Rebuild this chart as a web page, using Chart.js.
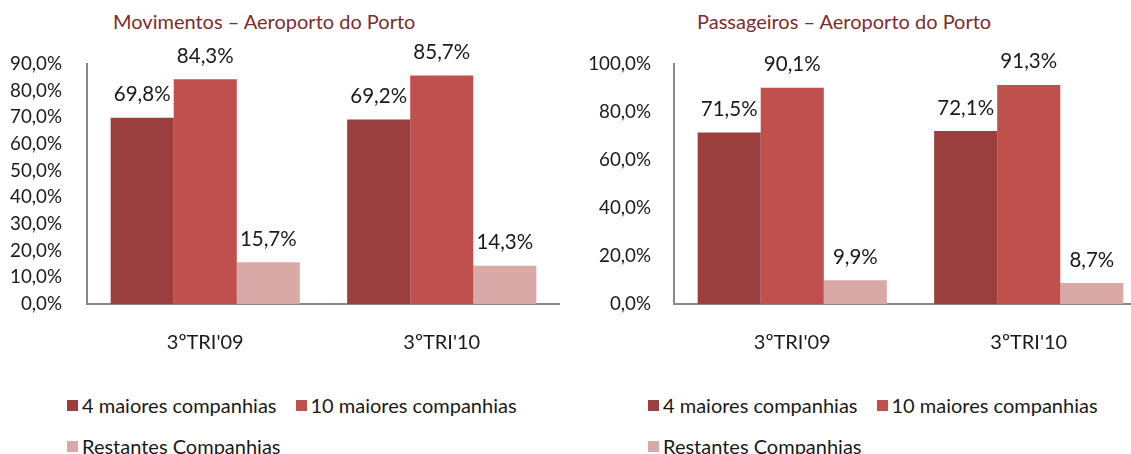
<!DOCTYPE html>
<html>
<head>
<meta charset="utf-8">
<script src="https://cdn.jsdelivr.net/npm/chart.js@4.4.1/dist/chart.umd.min.js"></script>
<style>
  html, body { margin: 0; padding: 0; background: #fff; overflow: hidden; }
  body { width: 1131px; height: 454px; position: relative; font-family: Lato, sans-serif; }
  .title { position: absolute; top: 9px; font-size: 20px; color: #7b2d2d; white-space: nowrap; }
  .chartBox { position: absolute; top: 0; }
  .legend { position: absolute; top: 392px; font-size: 20px; color: #1a1a1a; }
  .legend .row { display: flex; align-items: center; height: 26px; margin-bottom: 15px; }
  .legend .item { display: flex; align-items: center; margin-right: 19px; white-space: nowrap; }
  .legend .sw { width: 11px; height: 11px; margin-right: 4px; }
</style>
</head>
<body>
<div class="title" style="left:113px">Movimentos – Aeroporto do Porto</div>
<div class="title" style="left:697px">Passageiros – Aeroporto do Porto</div>
<div class="chartBox" style="left:0"><canvas id="movChart" width="560" height="364"></canvas></div>
<div class="chartBox" style="left:580px"><canvas id="pasChart" width="567" height="364"></canvas></div>
<div class="legend" id="movLegend" style="left:67px"></div>
<div class="legend" id="pasLegend" style="left:648px"></div>
<script>
// Categories and series
const categories = ["3ºTRI'09", "3ºTRI'10"];
const seriesNames = ['4 maiores companhias', '10 maiores companhias', 'Restantes Companhias'];
const seriesColors = ['#9b3f3e', '#c0504d', '#d9a9a8'];

// Movimentos (%)
const movTop4 = [69.8, 69.2];
const movTop10 = [84.3, 85.7];
const movRest = [15.7, 14.3];
const movMax = 90, movStep = 10;

// Passageiros (%)
const pasTop4 = [71.5, 72.1];
const pasTop10 = [90.1, 91.3];
const pasRest = [9.9, 8.7];
const pasMax = 100, pasStep = 20;

const fmt = v => v.toFixed(1).replace('.', ',') + '%';

// draws value labels above each bar
const barLabels = {
    id: 'barLabels',
    afterDatasetsDraw(chart) {
        const ctx = chart.ctx;
        ctx.save();
        ctx.font = '20.5px Lato';
        ctx.fillStyle = '#1a1a1a';
        ctx.textAlign = 'center';
        ctx.textBaseline = 'middle';
        chart.data.datasets.forEach((ds, i) => {
            chart.getDatasetMeta(i).data.forEach((bar, j) => {
                ctx.fillText(fmt(ds.data[j]), bar.x, bar.y - 23);
            });
        });
        ctx.restore();
    }
};

function makeChart(id, series, yMax, yStep, yWidth, yPad) {
    return new Chart(document.getElementById(id).getContext('2d'), {
        type: 'bar',
        data: {
            labels: categories,
            datasets: series.map((d, i) => ({
                label: seriesNames[i],
                data: d,
                backgroundColor: seriesColors[i],
                categoryPercentage: 0.8,
                barPercentage: 1.0
            }))
        },
        options: {
            responsive: false,
            animation: false,
            layout: { padding: { top: 64, right: 0, bottom: 0, left: 0 } },
            plugins: { legend: { display: false }, tooltip: { enabled: false } },
            scales: {
                x: {
                    grid: { display: false, drawTicks: false },
                    border: { color: '#878787', width: 2 },
                    ticks: { color: '#1a1a1a', font: { family: 'Lato', size: 20 }, padding: 27 },
                    afterFit: s => { s.height = 60; }
                },
                y: {
                    min: 0,
                    max: yMax,
                    grid: { display: false, drawTicks: false },
                    border: { color: '#878787', width: 2 },
                    ticks: {
                        stepSize: yStep,
                        color: '#1a1a1a',
                        font: { family: 'Lato', size: 18.75 },
                        padding: yPad,
                        callback: v => fmt(v)
                    },
                    afterFit: s => { s.width = yWidth; }
                }
            }
        },
        plugins: [barLabels]
    });
}

makeChart('movChart', [movTop4, movTop10, movRest], movMax, movStep, 87, 25);
makeChart('pasChart', [pasTop4, pasTop10, pasRest], pasMax, pasStep, 94, 23);

// html legends: two items on the first row, one on the second
function buildLegend(id) {
    const el = document.getElementById(id);
    const rows = [[0, 1], [2]];
    rows.forEach(r => {
        const row = document.createElement('div');
        row.className = 'row';
        r.forEach(i => {
            row.innerHTML += `<div class="item"><div class="sw" style="background:${seriesColors[i]}"></div>${seriesNames[i]}</div>`;
        });
        el.appendChild(row);
    });
}
buildLegend('movLegend');
buildLegend('pasLegend');
</script>
</body>
</html>
